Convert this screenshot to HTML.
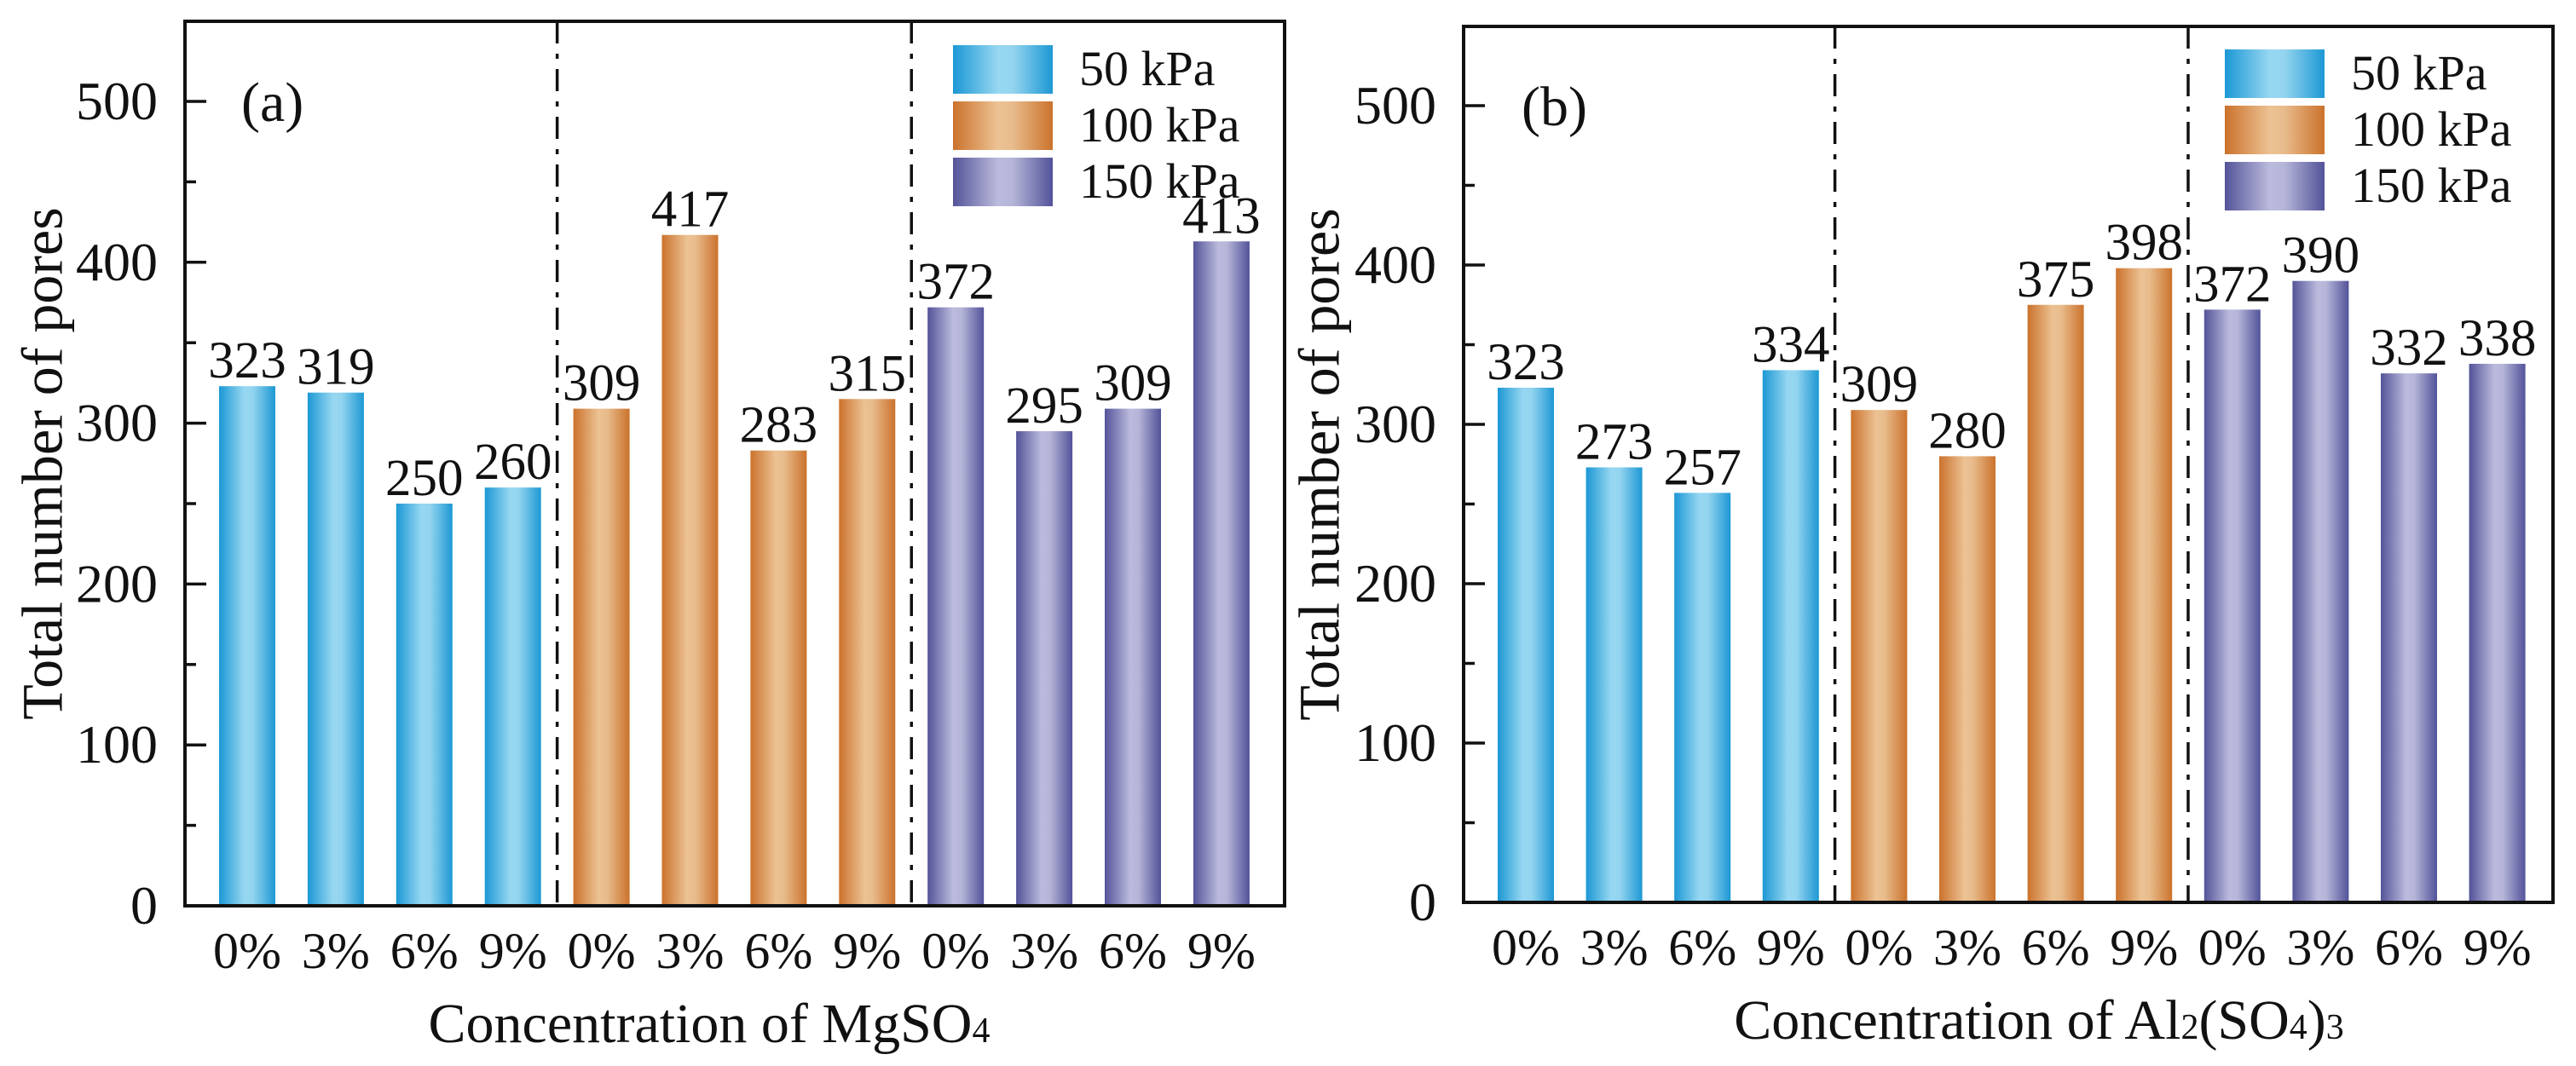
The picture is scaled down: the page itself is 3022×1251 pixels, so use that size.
<!DOCTYPE html>
<html><head><meta charset="utf-8"><style>
html,body{margin:0;padding:0;background:#fff;}
svg{display:block;font-family:"Liberation Serif",serif;}
</style></head><body>
<svg id="chart" width="3022" height="1251" viewBox="0 0 3022 1251" xmlns="http://www.w3.org/2000/svg">
<defs>
<linearGradient id="gBlue" x1="0" x2="1" y1="0" y2="0"><stop offset="0" stop-color="#1b98d5"/><stop offset="0.45" stop-color="#97d7f1"/><stop offset="0.6" stop-color="#93d4ef"/><stop offset="1" stop-color="#1d98d4"/></linearGradient>
<linearGradient id="gOrange" x1="0" x2="1" y1="0" y2="0"><stop offset="0" stop-color="#cb722c"/><stop offset="0.45" stop-color="#ecc294"/><stop offset="0.6" stop-color="#e8bb8b"/><stop offset="1" stop-color="#cb722c"/></linearGradient>
<linearGradient id="gPurple" x1="0" x2="1" y1="0" y2="0"><stop offset="0" stop-color="#545399"/><stop offset="0.45" stop-color="#bbbbdd"/><stop offset="0.6" stop-color="#b5b5d8"/><stop offset="1" stop-color="#52529a"/></linearGradient>
</defs>
</svg>
<script>
const categories = ["0%","3%","6%","9%","0%","3%","6%","9%","0%","3%","6%","9%"];
const valuesA = [323,319,250,260,309,417,283,315,372,295,309,413];
const valuesB = [323,273,257,334,309,280,375,398,372,390,332,338];
const yTicks = [0,100,200,300,400,500];
const seriesNames = ["50 kPa","100 kPa","150 kPa"];
const fills = ["url(#gBlue)","url(#gOrange)","url(#gPurple)"];

const svg = document.getElementById('chart');
const NS = "http://www.w3.org/2000/svg";
function mk(tag, attrs, parent){
  const e = document.createElementNS(NS, tag);
  for (const k in attrs) e.setAttribute(k, attrs[k]);
  (parent||svg).appendChild(e);
  return e;
}

const panels = [
  {id:'a', vals:valuesA, left:217, right:1507, top:25, y0:1063, y500:119, c0:290, step:103.9, label:'(a)', lx:283, ly:142, xtitle:['Concentration of MgSO','4',''], xtx:832, ytx:57, legX:1118, legY:53},
  {id:'b', vals:valuesB, left:1717, right:2995, top:31, y0:1059, y500:124, c0:1790, step:103.6, label:'(b)', lx:1785, ly:147, xtitle:['Concentration of Al','2','(SO','4',')','3'], xtx:2392, ytx:1555, legX:2610, legY:58}
];

panels.forEach(p => {
  const g = mk('g', {});
  
  
  const yScale = v => p.y0 - (v/500)*(p.y0 - p.y500);
  const xScale = i => p.c0 + i*p.step;
  const bw = 66;
  p.vals.forEach((v,i) => {
    const grp = Math.floor(i/4);
    const r = mk('rect', {x:xScale(i)-bw/2, y:yScale(v), width:bw, height:p.y0-yScale(v), fill:fills[grp]}, g);
    
    
    const t = mk('text', {x:xScale(i), y:yScale(v)-10, 'text-anchor':'middle', 'font-size':61, fill:'#111'}, g);
    t.textContent = v;
    
    
    const c = mk('text', {x:xScale(i), y:p.y0+73, 'text-anchor':'middle', 'font-size':60, fill:'#111'}, g);
    c.textContent = categories[i];
    
    
  });
  [3.5,7.5].forEach(k => {
    const l = mk('line', {x1:xScale(k), x2:xScale(k), y1:p.top, y2:p.y0, stroke:'#111', 'stroke-width':3.5, 'stroke-dasharray':'26 12 6 12'}, g);
    
    
  });
  const f = mk('rect', {x:p.left, y:p.top, width:p.right-p.left, height:p.y0-p.top, fill:'none', stroke:'#111', 'stroke-width':4}, g);
  
  
  yTicks.forEach(v => {
    const y = yScale(v);
    if (v>0) mk('line', {x1:p.left, x2:p.left+25, y1:y, y2:y, stroke:'#111', 'stroke-width':3.5}, g);
    const t = mk('text', {x:p.left-32, y:y+21, 'text-anchor':'end', 'font-size':64, fill:'#111'}, g);
    t.textContent = v;
    
    
    if (v<500) { const ym = yScale(v+50); mk('line', {x1:p.left, x2:p.left+13, y1:ym, y2:ym, stroke:'#111', 'stroke-width':3.5}, g); }
  });
  const pl = mk('text', {x:p.lx, y:p.ly, 'font-size':66, fill:'#111'}, g);
  pl.textContent = p.label;
  
  
  const yt = mk('text', {x:p.ytx, y:(p.y0+p.top)/2, 'text-anchor':'middle', 'font-size':68, fill:'#111', transform:'rotate(-90 '+p.ytx+' '+((p.y0+p.top)/2)+')', 'dominant-baseline':'middle'}, g);
  yt.textContent = 'Total number of pores';
  
  
  const xt = mk('text', {x:p.xtx, y:p.y0+160, 'text-anchor':'middle', 'font-size':66, fill:'#111'}, g);
  
  
  p.xtitle.forEach((s,k) => {
    if (!s) return;
    const ts = mk('tspan', {}, xt);
    if (k%2===1) { ts.setAttribute('font-size', 42); }
    ts.textContent = s;
  });
  seriesNames.forEach((n,k) => {
    const y = p.legY + k*66;
    const sw = mk('rect', {x:p.legX, y:y, width:117, height:57, fill:fills[k]}, g);
    
    
    const lt = mk('text', {x:p.legX+148, y:y+47, 'font-size':58, fill:'#111'}, g);
    lt.textContent = n;
    
    
  });
});
</script>
</body></html>
